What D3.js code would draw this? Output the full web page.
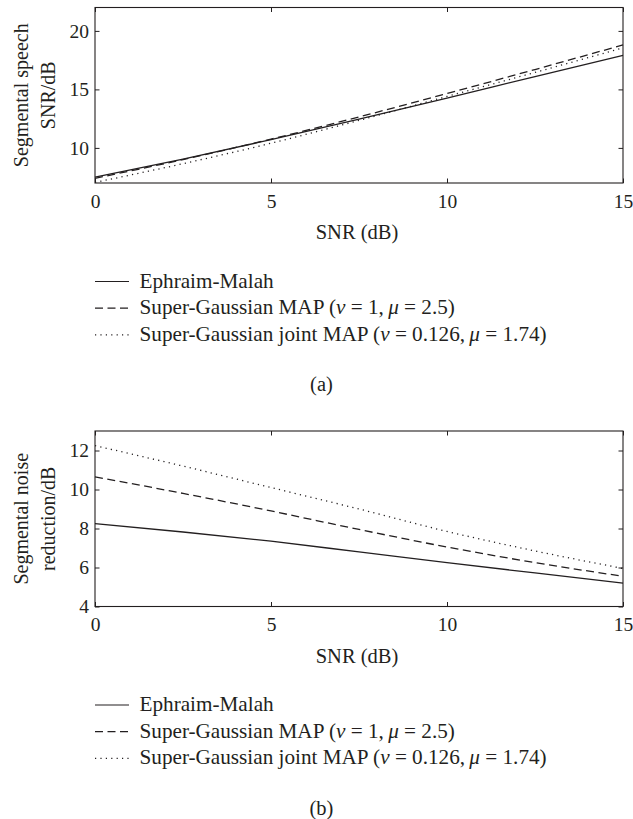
<!DOCTYPE html>
<html>
<head>
<meta charset="utf-8">
<script src="https://cdn.jsdelivr.net/npm/d3@7"></script>
<style>
  body { margin: 0; background: #fff; }
  svg text { font-family: "Liberation Serif", "Times New Roman", serif; fill: #231f20; }
</style>
</head>
<body>
<svg id="chart" width="633" height="819"></svg>
<script>
// SNR values on the x axis (dB)
const snr = [0, 2.5, 5, 7.5, 10, 12.5, 15];

// (a) segmental speech SNR / dB
const speechEM    = [7.5, 9.05, 10.7, 12.45, 14.25, 16.1, 17.9];
const speechMAP   = [7.4, 9.0, 10.75, 12.65, 14.65, 16.7, 18.8];
const speechJoint = [7.05, 8.65, 10.4, 12.35, 14.4, 16.45, 18.55];

// (b) segmental noise reduction / dB
const noiseEM    = [8.25, 7.82, 7.35, 6.8, 6.25, 5.72, 5.2];
const noiseMAP   = [10.65, 9.8, 8.9, 7.95, 7.05, 6.25, 5.55];
const noiseJoint = [12.25, 11.2, 10.1, 9.0, 7.85, 6.85, 5.95];

const xTicks = [0, 5, 10, 15];
const speechTicks = [10, 15, 20];
const noiseTicks = [4, 6, 8, 10, 12];

// legend: name + bits in the parenthesis (italic greek)
const legendItems = [
  {style: 'solid',  parts: [['Ephraim-Malah', false]]},
  {style: 'dashed', parts: [['Super-Gaussian MAP (', false], ['\u03bd', true], [' = 1,\u2009', false], ['\u03bc', true], [' = 2.5)', false]]},
  {style: 'dotted', parts: [['Super-Gaussian joint MAP (', false], ['\u03bd', true], [' = 0.126,\u2009', false], ['\u03bc', true], [' = 1.74)', false]]}
];

const dashes = {solid: null, dashed: '8,4.5', dotted: '1.2,4.2'};

const svg = d3.select('#chart');
const left = 95, right = 623, plotH = 175.5;

function drawPanel(top, series, yDomain, yTicks, ylabel, tag) {
  const g = svg.append('g').attr('transform', 'translate(0,' + top + ')');
  const x = d3.scaleLinear().domain([0, 15]).range([left, right]);
  const y = d3.scaleLinear().domain(yDomain).range([plotH, 0]);

  // data lines
  const line = d3.line()
      .x((d, i) => x(snr[i]))
      .y(d => y(d))
      .curve(d3.curveMonotoneX);
  series.forEach(s => {
    g.append('path')
      .attr('d', line(s.values))
      .attr('fill', 'none')
      .attr('stroke', '#231f20')
      .attr('stroke-width', 1.3)
      .attr('stroke-dasharray', dashes[s.style]);
  });

  // box + inward ticks, matlab style
  const tl = 4.5;
  g.append('g').attr('transform', 'translate(0,' + plotH + ')')
    .call(d3.axisBottom(x).tickValues(xTicks).tickSize(-tl).tickPadding(11).tickFormat(d3.format('d')));
  g.append('g')
    .call(d3.axisTop(x).tickValues(xTicks).tickSize(-tl).tickFormat(''));
  g.append('g').attr('transform', 'translate(' + left + ',0)')
    .call(d3.axisLeft(y).tickValues(yTicks).tickSize(-tl).tickPadding(6).tickFormat(d3.format('d')));
  g.append('g').attr('transform', 'translate(' + right + ',0)')
    .call(d3.axisRight(y).tickValues(yTicks).tickSize(-tl).tickFormat(''));
  g.selectAll('.domain').remove();
  g.selectAll('.tick line').attr('stroke', '#231f20').attr('stroke-width', 1);
  g.selectAll('.tick text').attr('font-size', 19.5).attr('fill', '#231f20')
    .style('font-family', '"Liberation Serif", serif');
  g.append('rect')
    .attr('x', left).attr('y', 0)
    .attr('width', right - left).attr('height', plotH)
    .attr('fill', 'none').attr('stroke', '#231f20').attr('stroke-width', 1.1);

  // y label (two lines, rotated)
  const yl = g.append('text')
    .attr('transform', 'translate(0,' + (plotH / 2) + ') rotate(-90)')
    .attr('text-anchor', 'middle')
    .attr('font-size', 20);
  yl.append('tspan').attr('x', 0).attr('y', 28).text(ylabel[0]);
  yl.append('tspan').attr('x', 0).attr('y', 54.5).text(ylabel[1]);

  // x label
  g.append('text')
    .attr('x', (left + right) / 2 - 2).attr('y', plotH + 56)
    .attr('text-anchor', 'middle')
    .attr('font-size', 20.5)
    .text('SNR (dB)');

  // legend
  legendItems.forEach((item, i) => {
    const ly = plotH + 98.5 + i * 26.7;
    g.append('line')
      .attr('x1', left).attr('x2', 129)
      .attr('y1', ly).attr('y2', ly)
      .attr('stroke', '#231f20').attr('stroke-width', 1.2)
      .attr('stroke-dasharray', dashes[item.style]);
    const t = g.append('text')
      .attr('x', 139.5).attr('y', ly + 6)
      .attr('font-size', 21.2);
    item.parts.forEach(p => {
      t.append('tspan').attr('font-style', p[1] ? 'italic' : null).text(p[0]);
    });
  });

  // panel tag
  g.append('text')
    .attr('x', 321.5).attr('y', plotH + 208)
    .attr('text-anchor', 'middle')
    .attr('font-size', 20.5)
    .text(tag);
}

drawPanel(7.5, [
  {style: 'solid', values: speechEM},
  {style: 'dashed', values: speechMAP},
  {style: 'dotted', values: speechJoint}
], [7, 22], speechTicks, ['Segmental speech', 'SNR/dB'], '(a)');

drawPanel(431, [
  {style: 'solid', values: noiseEM},
  {style: 'dashed', values: noiseMAP},
  {style: 'dotted', values: noiseJoint}
], [4, 13], noiseTicks, ['Segmental noise', 'reduction/dB'], '(b)');
</script>
</body>
</html>
